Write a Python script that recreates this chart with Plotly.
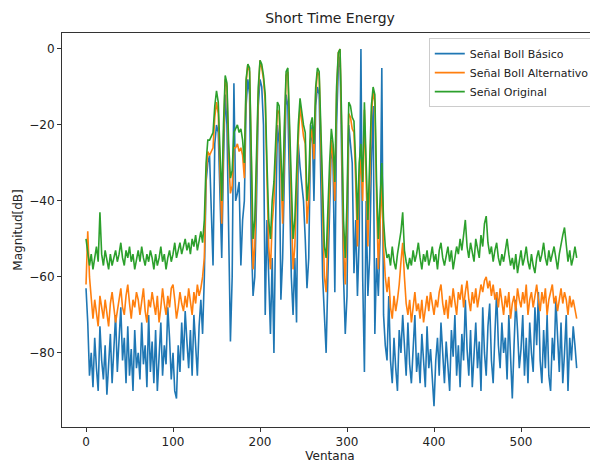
import plotly.graph_objects as go

# window indices (every second window)
ventana = list(range(0, 565, 2))

basico = [
    # quiet segment 0..136
    -63, -72, -86, -80, -89, -76, -84, -90, -73, -82,
    -87, -78, -91, -84, -75, -88, -80, -70, -85, -78,
    -68, -82, -76, -88, -73, -86, -79, -90, -74, -84,
    -80, -87, -72, -83, -78, -89, -70, -85, -77, -88,
    -74, -90, -80, -72, -86, -78, -83, -68, -76, -87,
    -80, -90, -92, -78, -85, -72, -82, -69, -77, -84,
    -74, -86, -70, -80, -86, -73, -66, -75, -60,
    # active segment 138..346
    -35, -30, -28, -40, -57, -25, -20, -22, -41, -55,
    -30, -12, -20, -45, -77, -60, -9, -40, -38, -35,
    -57, -45, -40, -15, -8, -12, -50, -65, -60, -40,
    -15, -8, -10, -20, -70, -45, -60, -75, -55, -80,
    -45, -20, -25, -66, -55, -30, -12, -15, -40, -60,
    -70, -55, -72, -25, -31, -35, -40, -50, -63, -55,
    -25, -20, -40, -15, -10, -12, -35, -60, -70, -80,
    -60, -45, -25, -30, -64, -20, -5, -2, -35, -60,
    -75, -65, -20, -25, -30, -59, -45, -65, -50, 0,
    -60, -85, -40, -65, -55, -30, -15, -75, -55, -65,
    -50, -5, -70, -78, -82,
    # quiet segment 348..564
    -65, -82, -88, -76, -84, -90, -74, -80, -70, -78,
    -86, -72, -83, -88, -77, -70, -85, -80, -88, -75,
    -82, -89, -73, -84, -79, -88, -94, -82, -76, -86,
    -72, -80, -88, -77, -84, -90, -74, -81, -70, -86,
    -78, -89, -75, -82, -66, -79, -86, -74, -89, -80,
    -72, -84, -77, -90, -68, -80, -86, -73, -67, -82,
    -88, -75, -64, -78, -84, -72, -80, -76, -87, -70,
    -82, -92, -78, -66, -74, -84, -79, -70, -86, -76,
    -88, -72, -80, -85, -68, -78, -64, -82, -88, -74,
    -84, -70, -86, -90, -76, -82, -66, -78, -85, -72,
    -88, -80, -70, -90, -76, -82, -73, -78, -84,
]

alternativo = [
    -62, -48, -60, -67, -71, -66, -69, -73, -65, -68,
    -71, -66, -70, -73, -67, -64, -68, -72, -69, -66,
    -63, -68, -70, -65, -62, -67, -71, -66, -68, -64,
    -66, -70, -67, -63, -69, -72, -66, -68, -64, -67,
    -70, -65, -72, -68, -63, -67, -70, -65, -68, -63,
    -62, -66, -71, -68, -64, -67, -69, -65, -68, -63,
    -66, -70, -64, -67, -62, -65, -63, -60, -55,
    -33, -27, -28, -27, -26, -18, -14, -17, -30, -46,
    -24, -8, -10, -29, -38, -36, -26, -26, -25, -27,
    -26, -28, -34, -9, -4, -6, -29, -58, -52, -35,
    -12, -3, -5, -8, -14, -34, -52, -58, -46, -40,
    -29, -16, -17, -35, -46, -24, -7, -6, -24, -46,
    -58, -52, -35, -24, -15, -20, -23, -25, -46, -40,
    -24, -21, -29, -12, -6, -7, -24, -46, -60, -64,
    -46, -35, -24, -29, -40, -12, -1, 0, -24, -52,
    -62, -46, -17, -18, -21, -22, -35, -52, -35, -29,
    -40, -16, -35, -52, -35, -18, -11, -14, -40, -58,
    -46, -35, -52, -60, -64,
    -60, -68, -71, -65, -69, -66, -62, -56, -51, -60,
    -67, -70, -66, -72, -68, -64, -69, -67, -71, -66,
    -72, -68, -65, -69, -64, -67, -70, -66, -68, -64,
    -62, -67, -70, -66, -71, -65, -68, -63, -67, -70,
    -64, -66, -62, -68, -64, -61, -66, -69, -64, -67,
    -63, -68, -65, -62, -64, -61, -60, -63, -61, -65,
    -62, -66, -64, -68, -63, -67, -70, -65, -68, -64,
    -71, -67, -65, -69, -63, -66, -68, -64, -67, -62,
    -70, -66, -64, -68, -65, -62, -66, -69, -64, -67,
    -63, -70, -66, -64, -62, -67, -65, -69, -66, -63,
    -67, -64, -66, -70, -65, -68, -66, -69, -71,
]

original = [
    -50, -53, -57, -54, -58, -55, -52, -56, -43, -54,
    -57, -53, -56, -58, -54, -57, -55, -53, -56, -54,
    -51, -55, -57, -53, -55, -52, -56, -54, -58, -55,
    -53, -56, -52, -55, -57, -54, -56, -53, -55, -58,
    -54, -57, -55, -52, -56, -54, -58, -55, -53, -56,
    -54, -51, -55, -53, -51, -54, -52, -50, -53, -51,
    -54, -50, -52, -49, -53, -50, -48, -51, -45,
    -30, -24, -24, -23, -22, -15, -11, -14, -25, -40,
    -20, -7, -9, -25, -34, -32, -22, -21, -20, -22,
    -21, -24, -30, -8, -4, -5, -25, -50, -45, -30,
    -10, -3, -4, -7, -12, -30, -45, -50, -40, -35,
    -25, -14, -15, -30, -40, -20, -6, -5, -20, -40,
    -50, -45, -30, -20, -13, -17, -20, -22, -40, -35,
    -20, -18, -25, -10, -5, -6, -20, -40, -52, -55,
    -40, -30, -21, -25, -35, -10, -1, 0, -20, -45,
    -55, -40, -14, -15, -18, -19, -30, -45, -30, -25,
    -35, -14, -30, -45, -30, -15, -10, -12, -35, -50,
    -40, -30, -45, -52, -55,
    -54, -57, -52, -56, -58, -54, -51, -48, -43, -53,
    -56, -58, -55, -57, -53, -56, -54, -51, -55, -58,
    -54, -56, -53, -57, -55, -52, -56, -54, -58, -53,
    -51, -55, -57, -54, -52, -56, -53, -58, -55, -52,
    -54, -50, -53, -48, -45, -52, -55, -51, -54, -56,
    -50, -53, -55, -49, -52, -46, -44, -51, -54, -52,
    -56, -53, -51, -55, -57, -54, -56, -53, -50, -54,
    -57, -55, -58, -54, -59, -56, -53, -57, -55, -52,
    -56, -58, -54, -57, -59, -55, -53, -56, -54, -51,
    -55, -57, -53, -56, -54, -52, -55, -58, -54, -51,
    -49, -47, -52, -56, -53, -57, -55, -52, -55,
]

assert len(basico) == len(ventana) == len(alternativo) == len(original), \
    (len(ventana), len(basico), len(alternativo), len(original))

series_names = ["Señal Boll Básico", "Señal Boll Alternativo", "Señal Original"]
series_colors = ["#1f77b4", "#ff7f0e", "#2ca02c"]
x_ticks = [0, 100, 200, 300, 400, 500]
y_ticks = [0, -20, -40, -60, -80]

fig = go.Figure()
for name, vals, col in zip(series_names, [basico, alternativo, original], series_colors):
    fig.add_trace(go.Scatter(x=ventana, y=vals, mode="lines", name=name,
                             line=dict(color=col, width=1.6)))

axis_common = dict(showline=True, linecolor="#333333", linewidth=1, mirror=True,
                   ticks="outside", ticklen=4, tickcolor="#333333", showgrid=False,
                   zeroline=False, tickfont=dict(size=12, color="#222222"))

fig.update_layout(
    width=590, height=456,
    margin=dict(l=54, r=0, t=25, b=37),
    paper_bgcolor="white", plot_bgcolor="white",
    font=dict(family="DejaVu Sans", color="#222222"),
    title=dict(text="Short Time Energy", xref="paper", x=0.5, xanchor="center",
               y=0.978, yanchor="middle", font=dict(size=14)),
    xaxis=dict(range=[-27.6, 588.5], tickvals=x_ticks,
               title=dict(text="Ventana", font=dict(size=12), standoff=1), **axis_common),
    yaxis=dict(range=[-99.5, 4.2], tickvals=y_ticks,
               title=dict(text="Magnitud[dB]", font=dict(size=12), standoff=4), **axis_common),
    legend=dict(x=0.994, xanchor="right", y=0.987, yanchor="top",
                bgcolor="rgba(255,255,255,0.9)", bordercolor="#cccccc", borderwidth=1,
                font=dict(size=11), tracegroupgap=0, itemwidth=30),
    showlegend=True,
)

fig.write_html("out.html")
